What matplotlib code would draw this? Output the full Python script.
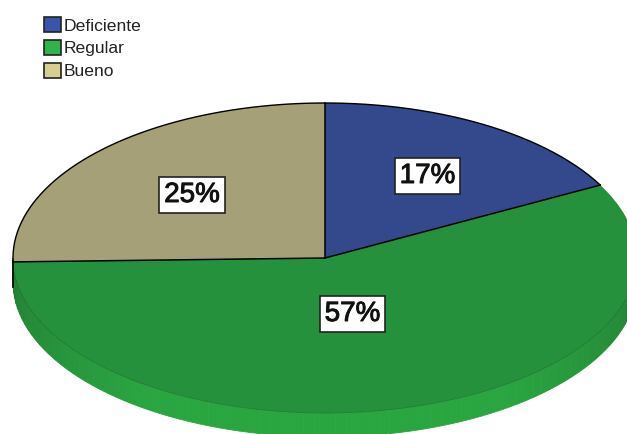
import numpy as np
import matplotlib
matplotlib.use("Agg")
import matplotlib.pyplot as plt
import matplotlib.patheffects as pe
from matplotlib.patches import Patch

# datos del grafico
categorias = ["Deficiente", "Regular", "Bueno"]
valores = [17.2, 57.4, 25.4]
etiquetas = ["17%", "57%", "25%"]

col_pie = ["#34488c", "#26913c", "#a5a077"]
col_leyenda = ["#3a55a8", "#2fb34a", "#d6cf90"]
col_lado_claro = np.array([0x2a, 0xa6, 0x41]) / 255
col_lado_osc = np.array([0x22, 0x7c, 0x35]) / 255

W, H = 627, 434
cx, cy, rx, ry = 325, 258, 312, 155
grosor = 24 / ry

plt.rcParams["font.family"] = ["Liberation Sans", "DejaVu Sans"]
fig = plt.figure(figsize=(W / 100, H / 100), dpi=100)
ax = fig.add_axes([0, 0, 1, 1])


def px(x, y):
    # pixeles de la imagen a unidades del pastel
    return (x - cx) / rx, (cy - y) / ry


def elipse(ang):
    # angulo en grados, desde las 12 en sentido horario
    a = np.radians(ang)
    return np.sin(a), np.cos(a)


# el pastel, aplastado con aspect auto
ax.pie(valores, colors=col_pie, startangle=90, counterclock=False, radius=1,
       wedgeprops={"linewidth": 0})
ax.set_aspect("auto")
x0, _ = px(0, 0)
x1, _ = px(W, 0)
_, y0 = px(0, H)
_, y1 = px(0, 0)
ax.set_xlim(x0, x1)
ax.set_ylim(y0, y1)

# lado del pastel, tiras finas para el degradado
angs = np.linspace(90, 270, 91)
for a, b in zip(angs[:-1], angs[1:]):
    t = np.linspace(a, b, 4)
    xs, ys = elipse(t)
    f = 1 - abs((a + b) / 2 - 180) / 90
    c = col_lado_osc + (col_lado_claro - col_lado_osc) * min(1, f * 1.6)
    ax.fill(np.r_[xs, xs[::-1]], np.r_[ys, ys[::-1] - grosor], color=c, lw=0.6, zorder=0.5)

# borde tenue entre la cara y el lado
t = np.linspace(90, 270, 200)
xs, ys = elipse(t)
ax.plot(xs, ys, color="#1b5a28", lw=0.5, alpha=0.6, zorder=3)

# bordes negros: radios y arco superior
acum = np.cumsum(valores) / sum(valores) * 360
for a in acum:
    xs, ys = elipse(a)
    ax.plot([0, xs], [0, ys], color="black", lw=1.1, zorder=4)
t = np.r_[np.linspace(acum[1], 360, 100), np.linspace(0, acum[0], 60)]
xs, ys = elipse(t)
ax.plot(xs, ys, color="black", lw=1.0, zorder=4)
ax.plot([-1, -1], [-0.02, -grosor * 1.2], color="black", lw=1.2, zorder=4)

# etiquetas de porcentaje
pos_etq = [(427.5, 176), (352.5, 314), (192, 195)]
for txt, p in zip(etiquetas, pos_etq):
    x, y = px(*p)
    ax.text(x, y, txt, ha="center", va="center", fontsize=20, zorder=6, color="#111111",
            path_effects=[pe.withStroke(linewidth=0.7, foreground="#111111")],
            bbox=dict(boxstyle="square,pad=0.18", fc="white", ec="#222222", lw=1.2))

# leyenda
handles = [Patch(fc=c, ec="#222222", lw=1.2) for c in col_leyenda]
fig.legend(handles, categorias, loc="upper left", bbox_to_anchor=(44 / W, 1 - 17 / H),
           bbox_transform=fig.transFigure, frameon=False, fontsize=12.6,
           handlelength=0.95, handleheight=0.95, handletextpad=0.15,
           labelspacing=0.36, borderpad=0, borderaxespad=0, labelcolor="#222222")

fig.savefig("out.png", dpi=100)
